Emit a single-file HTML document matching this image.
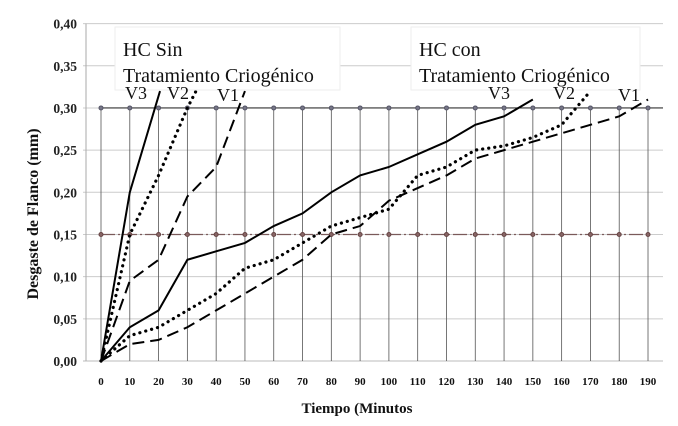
<!DOCTYPE html>
<html><head><meta charset="utf-8"><style>
body{margin:0;background:#fff}
svg{display:block}
svg text{font-family:"Liberation Serif","Times New Roman",serif !important}
</style></head><body>
<svg id="c" width="678" height="426" viewBox="0 0 678 426" xmlns="http://www.w3.org/2000/svg" font-family="Liberation Serif, serif"></svg>
<script>
const xTicks=[0,10,20,30,40,50,60,70,80,90,100,110,120,130,140,150,160,170,180,190];
const yTicks=[0,0.05,0.10,0.15,0.20,0.25,0.30,0.35,0.40];
const yTickLabels=["0,00","0,05","0,10","0,15","0,20","0,25","0,30","0,35","0,40"];
const sinV3X=[0,10,20.5];
const sinV3Y=[0,0.20,0.32];
const sinV2X=[0,10,20,30,33];
const sinV2Y=[0,0.15,0.22,0.30,0.32];
const sinV1X=[0,10,20,30,40,50];
const sinV1Y=[0,0.095,0.12,0.195,0.23,0.32];
const conV3X=[0,10,20,30,40,50,60,70,80,90,100,110,120,130,140,150];
const conV3Y=[0,0.04,0.06,0.12,0.13,0.14,0.16,0.175,0.20,0.22,0.23,0.245,0.26,0.28,0.29,0.31];
const conV2X=[0,10,20,30,40,50,60,70,80,90,100,110,120,130,140,150,160,170];
const conV2Y=[0,0.03,0.04,0.06,0.08,0.11,0.12,0.14,0.16,0.17,0.18,0.22,0.23,0.25,0.255,0.265,0.28,0.32];
const conV1X=[0,10,20,30,40,50,60,70,80,90,100,110,120,130,140,150,160,170,180,190];
const conV1Y=[0,0.02,0.025,0.04,0.06,0.08,0.10,0.12,0.15,0.16,0.19,0.205,0.22,0.24,0.25,0.26,0.27,0.28,0.29,0.31];
const limitHigh=0.30, limitLow=0.15;

const NS="http://www.w3.org/2000/svg";
const svg=document.getElementById('c');
const X=v=>101+v*2.879;
const Y=v=>361-v*843.5;
function mk(tag,attrs,parent){const e=document.createElementNS(NS,tag);for(const k in attrs)e.setAttribute(k,attrs[k]);if(tag=='text')e.setAttribute('font-family','Liberation Serif, serif');(parent||svg).appendChild(e);return e;}

yTicks.forEach((t,i)=>{
  const l=mk('line',{x1:83,x2:663,y1:Y(t),y2:Y(t),stroke:i==0?'#bbb':'#ccc','stroke-width':1});
  
  
  const tx=mk('text',{x:77,y:Y(t)+5,'text-anchor':'end','font-size':13.5,'font-weight':'bold',fill:'#222'});
  tx.textContent=yTickLabels[i];
  
  
});
xTicks.forEach(t=>{
  const l=mk('line',{x1:X(t),x2:X(t),y1:Y(limitHigh),y2:Y(0),stroke:'#555','stroke-width':0.8});
  
  
  const tx=mk('text',{x:X(t),y:385,'text-anchor':'middle','font-size':11,'font-weight':'bold',fill:'#111'});
  tx.textContent=t;
  
  
});
const ax=mk('line',{x1:86,x2:86,y1:Y(0.40),y2:Y(0),stroke:'#aaa','stroke-width':1});



const lh=mk('line',{x1:X(0),x2:X(190)+15,y1:Y(limitHigh),y2:Y(limitHigh),stroke:'#333','stroke-width':1.2});


const ll=mk('line',{x1:X(0),x2:X(190),y1:Y(limitLow),y2:Y(limitLow),stroke:'#7a5a5a','stroke-width':1.2,'stroke-dasharray':'14,3,2,3'});


xTicks.forEach(t=>{
  const a=mk('circle',{cx:X(t),cy:Y(limitHigh),r:2,fill:'#778',stroke:'#556'});
  
  
  const b=mk('circle',{cx:X(t),cy:Y(limitLow),r:2,fill:'#866',stroke:'#644'});
  
  
});

function series(xs,ys,style,name){
  const d=xs.map((x,i)=>(i?'L':'M')+X(x)+','+Y(ys[i])).join(' ');
  const p=mk('path',{d:d,fill:'none',stroke:'#000','stroke-width':style=='dot'?3.2:2});
  if(style=='dash')p.setAttribute('stroke-dasharray','12,6');
  if(style=='dot'){p.setAttribute('stroke-dasharray','0.1,6');p.setAttribute('stroke-linecap','round');}
  
  
}
series(sinV3X,sinV3Y,'solid','series-sin-v3');
series(sinV2X,sinV2Y,'dot','series-sin-v2');
series(sinV1X,sinV1Y,'dash','series-sin-v1');
series(conV3X,conV3Y,'solid','series-con-v3');
series(conV2X,conV2Y,'dot','series-con-v2');
series(conV1X,conV1Y,'dash','series-con-v1');

function box(x,y,w,h,l1,l2,name){
  const g=mk('g',{});
  
  
  mk('rect',{x:x,y:y,width:w,height:h,fill:'#fff',stroke:'#eee'},g);
  const a=mk('text',{x:x+8,y:y+29,'font-size':20,fill:'#111'},g);a.textContent=l1;
  const b=mk('text',{x:x+8,y:y+55,'font-size':20,fill:'#111'},g);b.textContent=l2;
}
box(115,27,225,63,'HC Sin','Tratamiento Criogénico','legend-sin');
box(411,27,229,63,'HC con','Tratamiento Criogénico','legend-con');
function lbl(x,y,t){const e=mk('text',{x:x,y:y,'font-size':18,fill:'#111'});e.textContent=t;
  
  }
lbl(125,99,'V3');lbl(167,99,'V2');lbl(217,101,'V1');
lbl(488,99,'V3');lbl(553,99,'V2');lbl(618,101,'V1');

const xt=mk('text',{x:357,y:413,'text-anchor':'middle','font-size':15,'font-weight':'bold',fill:'#111'});
xt.textContent='Tiempo (Minutos';


const yt=mk('text',{x:0,y:0,'text-anchor':'middle','font-size':16,'font-weight':'bold',fill:'#111',transform:'translate(38,214) rotate(-90)'});
yt.textContent='Desgaste de Flanco (mm)';


</script>
</body></html>
